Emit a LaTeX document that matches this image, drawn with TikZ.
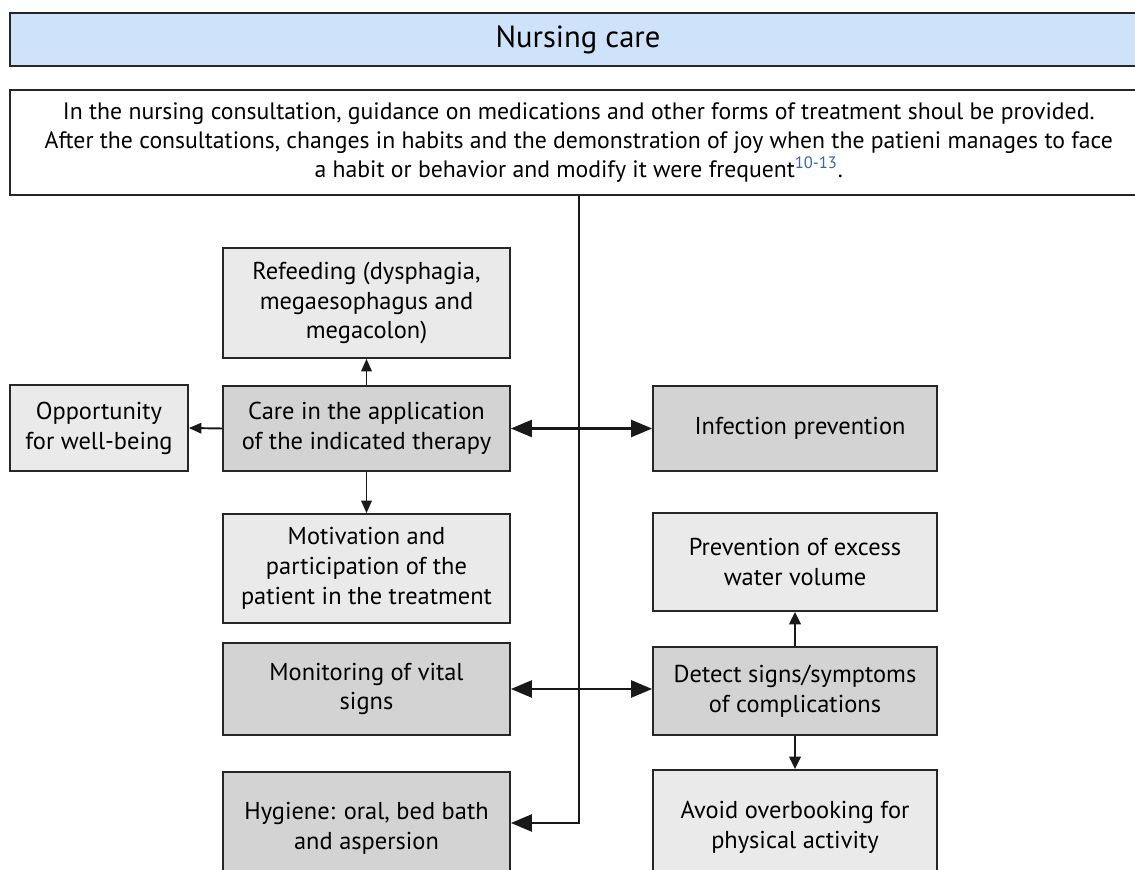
\documentclass[tikz,border=0pt]{standalone}
\usepackage{fontspec}
\setmainfont{PT Sans}
\usepackage{xcolor}
\usepackage{tikz}
\usetikzlibrary{calc}
\usetikzlibrary{arrows.meta}
\definecolor{headblue}{RGB}{206,226,250}
\definecolor{lightgr}{RGB}{234,234,234}
\definecolor{darkgr}{RGB}{211,211,211}
\definecolor{refblue}{RGB}{60,100,170}
\tikzset{
  box/.style={draw=black!85, line width=1pt, align=center, inner sep=0pt,
    font=\fontsize{13.9}{17}\selectfont},
  lbox/.style={box, fill=lightgr},
  dbox/.style={box, fill=darkgr},
  trunkarrow/.style={line width=1.3pt, black!90, -{Triangle[length=0.42cm,width=0.34cm]}},
  twoarrow/.style={line width=1.3pt, black!90, {Triangle[length=0.42cm,width=0.34cm]}-{Triangle[length=0.42cm,width=0.34cm]}},
  midarrow/.style={line width=1.2pt, black!90, -{Triangle[length=0.25cm,width=0.23cm]}},
  smallarrow/.style={line width=1.1pt, black!90, -{Triangle[length=0.25cm,width=0.21cm]}}
}

\begin{document}
\begin{tikzpicture} [scale=1]
\useasboundingbox (0,0) rectangle (22.7,17.38);
\clip (0,0) rectangle (22.7,17.38);
% header and guidance text
\node[box, fill=headblue, minimum width=22.72cm, minimum height=1.06cm, font=\fontsize{17.4}{20}\selectfont] (head) at (11.56,16.59) {Nursing care};
\node[box, fill=white, minimum width=22.75cm, minimum height=2.1cm, font=\fontsize{13.5}{16.7}\selectfont] (guide) at (11.575,14.53)
  {In the nursing consultation, guidance on medications and other forms of treatment shoul be provided.\\
   After the consultations, changes in habits and the demonstration of joy when the patieni manages to face\\
   a habit or behavior and modify it were frequent\textsuperscript{\color{refblue}10-13}.};
% left column
\node[lbox, minimum width=5.74cm, minimum height=2.2cm] (refeed) at (7.33,11.32) {Refeeding (dysphagia,\\megaesophagus and\\megacolon)};
\node[dbox, minimum width=5.74cm, minimum height=1.7cm] (care) at (7.33,8.81) {Care in the application\\of the indicated therapy};
\node[lbox, minimum width=3.56cm, minimum height=1.72cm] (opport) at (1.98,8.82) {Opportunity\\for well-being};
\node[lbox, minimum width=5.74cm, minimum height=2.18cm] (motiv) at (7.33,6.01) {Motivation and\\participation of the\\patient in the treatment};
\node[dbox, minimum width=5.74cm, minimum height=1.84cm] (monit) at (7.33,3.6) {Monitoring of vital\\signs};
\node[dbox, minimum width=5.74cm, minimum height=2.26cm] (hygiene) at (7.33,0.81) {Hygiene: oral, bed bath\\and aspersion};
% right column
\node[dbox, minimum width=5.68cm, minimum height=1.7cm] (infect) at (15.9,8.81) {\hspace{0.2cm}Infection prevention};
\node[lbox, minimum width=5.68cm, minimum height=1.96cm] (prevent) at (15.9,6.14) {Prevention of excess\\water volume};
\node[dbox, minimum width=5.68cm, minimum height=1.76cm] (detect) at (15.9,3.56) {Detect signs/symptoms\\of complications};
\node[lbox, minimum width=5.68cm, minimum height=2.28cm] (avoid) at (15.9,0.84) {Avoid overbooking for\\physical activity};
% connectors
\draw[trunkarrow] (guide.south) |- ($(hygiene.east)+(0,0.11)$);
\draw[twoarrow] (care.east) -- (infect.west);
\draw[twoarrow] (monit.east) -- (monit.east -| detect.west);
\draw[smallarrow] (care.north) -- (refeed.south);
\draw[smallarrow] (care.west) -- (opport.east);
\draw[smallarrow] (care.south) -- (motiv.north);
\draw[midarrow] (detect.north) -- (prevent.south);
\draw[midarrow] (detect.south) -- (avoid.north);
\end{tikzpicture}
\end{document}
